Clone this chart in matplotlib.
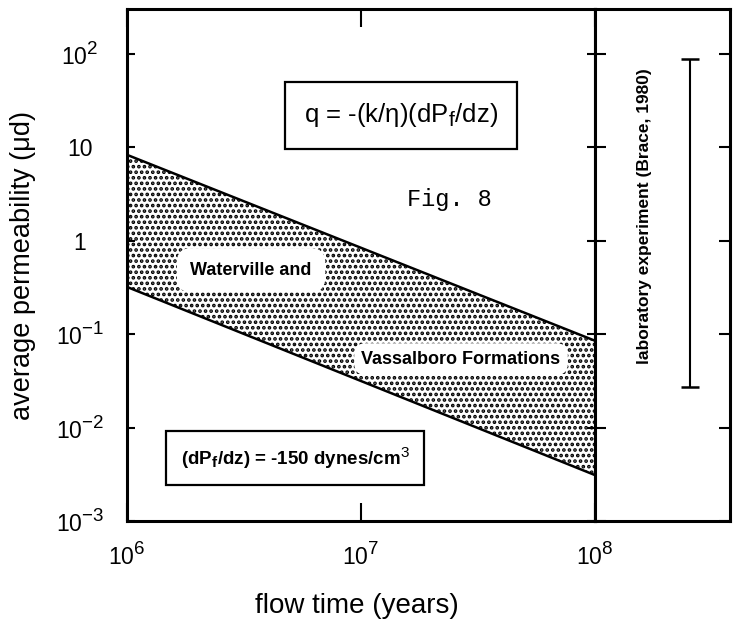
import matplotlib
matplotlib.use('Agg')
import matplotlib.pyplot as plt
import matplotlib._mathtext as mt

mt.SHRINK_FACTOR = 0.82   # larger exponents on the tick labels

plt.rcParams['font.family'] = ['Liberation Sans', 'DejaVu Sans']
plt.rcParams['mathtext.fontset'] = 'custom'
plt.rcParams['mathtext.rm'] = 'Liberation Sans'
plt.rcParams['mathtext.it'] = 'Liberation Sans'
plt.rcParams['mathtext.bf'] = 'Liberation Sans:bold'
plt.rcParams['hatch.linewidth'] = 1.8

# flow time (years) and the permeability band (micro-darcy) for the two formations
flow_time = [1e6, 1e8]
perm_upper = [8.3, 0.085]
perm_lower = [0.32, 0.0031]

# laboratory range (Brace, 1980)
lab_range = [0.027, 88]

y_ticks = [1e-3, 1e-2, 1e-1, 1, 10, 1e2]
y_labels = ['$10^{-3}$', '$10^{-2}$', '$10^{-1}$', '1', '10', '$10^{2}$']
x_ticks = [1e6, 1e7, 1e8]
x_labels = ['$10^{6}$', '$10^{7}$', '$10^{8}$']

fig = plt.figure(figsize=(7.42, 6.23), dpi=100)
W, H = 742.0, 623.0
x0, x1, x2 = 127, 595, 730   # left edge, divider, right edge (px)
ytop, ybot = 9, 521

ax = fig.add_axes([x0/W, 1-ybot/H, (x1-x0)/W, (ybot-ytop)/H])
ax2 = fig.add_axes([x1/W, 1-ybot/H, (x2-x1)/W, (ybot-ytop)/H], sharey=ax)

ax.set_xscale('log')
ax.set_yscale('log')
ax.set_xlim(1e6, 1e8)
ax.set_ylim(1e-3, 10**2.48)

# stippled band
ax.fill_between(flow_time, perm_lower, perm_upper, facecolor='white',
                edgecolor='black', hatch='...', linewidth=0)
ax.plot(flow_time, perm_upper, color='black', lw=1.8)
ax.plot(flow_time, perm_lower, color='black', lw=1.8)

ax.set_xticks(x_ticks)
ax.set_xticklabels(x_labels)
ax.set_yticks(y_ticks)
ax.set_yticklabels(y_labels, ha='center')
ax.minorticks_off()
ax.tick_params(axis='y', which='major', direction='in', left=True, right=True,
               length=6, width=1.5, pad=34, labelsize=16.5)
ax.tick_params(axis='x', which='major', direction='in', top=True, bottom=True,
               length=13, width=1.5, pad=16, labelsize=16.5)
ax.tick_params(which='minor', left=False, right=False, top=False, bottom=False)
for s in ax.spines.values():
    s.set_linewidth(2.2)

# right panel: laboratory measurements
ax2.set_xlim(0, 1)
ax2.vlines(0.70, lab_range[0], lab_range[1], color='black', lw=1.5)
ax2.plot([0.70, 0.70], lab_range, ls='none', marker='_', ms=13, mew=1.8, color='black')
ax2.set_xticks([])
ax2.tick_params(axis='y', which='major', direction='in', left=True, right=True,
                length=8, width=1.5, labelleft=False)
ax2.tick_params(which='minor', left=False, right=False)
for s in ax2.spines.values():
    s.set_linewidth(2.2)
ax2.text(0.37, 0.596, 'laboratory experiment (Brace, 1980)', transform=ax2.transAxes,
         rotation=90, ha='center', va='center', fontsize=12.5, fontweight='bold')

# annotations
ax.text(0.5855, 0.792, r'q = -(k/$\eta$)(dP$_\mathrm{f}$/dz)', transform=ax.transAxes,
        ha='center', va='center', fontsize=18.5,
        bbox=dict(boxstyle='square,pad=0.75', fc='white', ec='black', lw=1.6))
ax.text(0.688, 0.627, 'Fig. 8', transform=ax.transAxes, ha='center', va='center',
        fontsize=17, family='Liberation Mono')
ax.text(0.265, 0.49, 'Waterville and', transform=ax.transAxes, ha='center', va='center',
        fontsize=13, fontweight='bold',
        bbox=dict(boxstyle='round,pad=0.75,rounding_size=0.8', fc='white', ec='none'))
ax.text(0.7137, 0.3164, 'Vassalboro Formations', transform=ax.transAxes,
        ha='center', va='center', fontsize=13, fontweight='bold',
        bbox=dict(boxstyle='round,pad=0.4,rounding_size=0.6', fc='white', ec='none'))
ax.text(0.359, 0.123, r'(dP$_\mathbf{f}$/dz) = -150 dynes/cm$^\mathrm{3}$',
        transform=ax.transAxes, ha='center', va='center', fontsize=13.5, fontweight='bold',
        bbox=dict(boxstyle='square,pad=0.75', fc='white', ec='black', lw=1.6))

fig.text(23/W, 1-266/H, u'average permeability (\u03bcd)', rotation=90,
         ha='center', va='center', fontsize=19.5)
fig.text(357/W, 1-606/H, 'flow time (years)', ha='center', va='center', fontsize=20)

fig.savefig('out.png', dpi=100)
